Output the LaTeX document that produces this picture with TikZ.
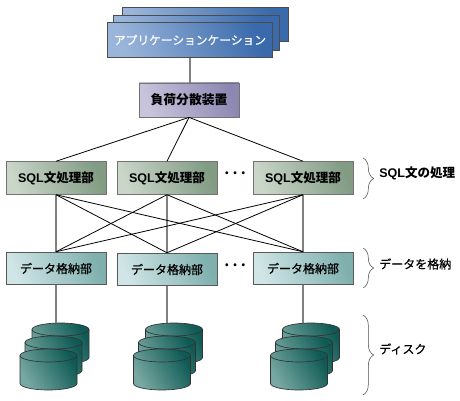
\documentclass[tikz,border=0pt]{standalone}
\usepackage{fontspec}
\setmainfont{Noto Sans CJK JP}
\newfontfamily\mediumfont[FakeBold=0.6]{Noto Sans CJK JP}
\newfontfamily\latinfont{Liberation Sans}
\newcommand{\sqlword}{{\latinfont\bfseries SQL}}
\usetikzlibrary{calc,decorations.pathreplacing}
\definecolor{appdark}{HTML}{3A6AAC}
\definecolor{applight}{HTML}{9AB5DA}
\definecolor{lbdark}{HTML}{8D88B2}
\definecolor{lblight}{HTML}{C8C4DC}
\definecolor{sqldark}{HTML}{829C84}
\definecolor{sqllight}{HTML}{C9D6C8}
\definecolor{datadark}{HTML}{7FB0AE}
\definecolor{datalight}{HTML}{D0E5E6}
\definecolor{diskdark}{HTML}{0F5A55}
\definecolor{disklight}{HTML}{78A8A2}
\tikzset{
  box/.style={draw=#1,line width=0.6pt,inner sep=0pt,minimum width=75pt,minimum height=24.5pt},
  appbox/.style={box=black!70,minimum width=124pt,minimum height=26pt,top color=appdark,bottom color=applight,shading angle=-70,
    text=white,font=\fontsize{8.8pt}{10pt}\mediumfont},
  lbbox/.style={box=black!55,minimum height=25.5pt,top color=lbdark,bottom color=lblight,shading angle=-70,
    font=\fontsize{9.6pt}{11pt}\selectfont\bfseries},
  sqlbox/.style={box=black!55,top color=sqldark,bottom color=sqllight,shading angle=-70,
    font=\fontsize{9.4pt}{11pt}\selectfont\bfseries},
  databox/.style={box=black!65,top color=datadark,bottom color=datalight,shading angle=-70,
    font=\fontsize{9pt}{11pt}\mediumfont},
  note/.style={anchor=west,inner sep=0pt,font=\fontsize{9pt}{11pt}\mediumfont},
  dotsnote/.style={inner sep=0pt,font=\fontsize{16.5pt}{18pt}\selectfont},
  wire/.style={black,line width=0.6pt},
  drop/.style={black!50,line width=1.1pt},
  bracket/.style={black!70,line width=0.4pt,decorate,decoration={brace,amplitude=8pt}},
  diskbody/.style={draw=black!80,line width=0.5pt,top color=diskdark,bottom color=disklight,shading angle=-60},
  % one disk, (0,0) is the centre of its top face
  pics/disk/.style={code={
    \path[diskbody] (-28.5,0) -- (-28.5,-28) arc (180:360:28.5 and 6.5) -- (28.5,0) arc (0:180:28.5 and 6.5) -- cycle;
    \draw[black!80,line width=0.5pt] (-28.5,0) arc (180:360:28.5 and 6.5);
  }},
  % three disks, stepping down to the left
  pics/diskstack/.style={code={
    \pic at (0,0) {disk};
    \pic at (-7,-13) {disk};
    \pic at (-12,-26) {disk};
    \coordinate (-top) at (-4.5,6.5);
  }},
}
\begin{document}
\begin{tikzpicture}[x=0.75pt,y=0.75pt]
  \useasboundingbox (0,0) rectangle (460,400);
  % application stack
  \node[appbox] (appBack) at (205.5,375.5) {};
  \node[appbox] (appMid) at (196.5,367) {};
  \node[appbox] (appFront) at (190,360) {アプリケーションケーション};
  \node[lbbox] (balancer) at (189,300) {負荷分散装置};
  % SQL and data rows
  \foreach \name/\cx in {A/56,B/167,C/303}{
    \node[sqlbox] (sql\name) at (\cx,222) {\sqlword 文処理部};
  }
  \node[databox] (dataA) at (56,131.5) {データ格納部};
  \node[databox] (dataB) at (167,130.5) {データ格納部};
  \node[databox] (dataC) at (303,131.5) {データ格納部};
  \node[dotsnote] (dotsSql) at (235.5,227) {…};
  \node[dotsnote] (dotsData) at (235.5,135) {…};
  % connectors
  \draw[drop] (appFront.south) -- (appFront.south |- balancer.north);
  \foreach \name in {A,B,C}{
    \draw[wire] (balancer.south) -- (sql\name.north);
    \draw[drop] (sql\name.south) -- (data\name.north);
  }
  \foreach \from/\to in {A/B,A/C,B/A,B/C,C/A,C/B}{
    \draw[wire] (sql\from.south) -- (data\to.north);
  }
  % disks
  \pic (diskA) at (60.5,70.5) {diskstack};
  \pic (diskB) at (174,70.5) {diskstack};
  \pic (diskC) at (311,70.5) {diskstack};
  \foreach \name in {A,B,C}{
    \draw[drop] (data\name.south) -- (data\name.south |- disk\name-top);
  }
  % braces and their labels
  \coordinate (sqlTop) at (363,242);
  \coordinate (sqlEnd) at (363,201);
  \coordinate (dataTop) at (363,152);
  \coordinate (dataEnd) at (363,112);
  \coordinate (diskTop) at (363,85);
  \coordinate (diskEnd) at (363,5);
  \draw[bracket] (sqlTop) -- (sqlEnd);
  \draw[bracket] (dataTop) -- (dataEnd);
  \draw[bracket] (diskTop) -- (diskEnd);
  \node[note,font=\fontsize{9.4pt}{11pt}\selectfont\bfseries] (sqlNote) at (379,227) {\sqlword 文の処理};
  \node[note] (dataNote) at (379,136) {データを格納};
  \node[note] (diskNote) at (379,51) {ディスク};
\end{tikzpicture}
\end{document}
